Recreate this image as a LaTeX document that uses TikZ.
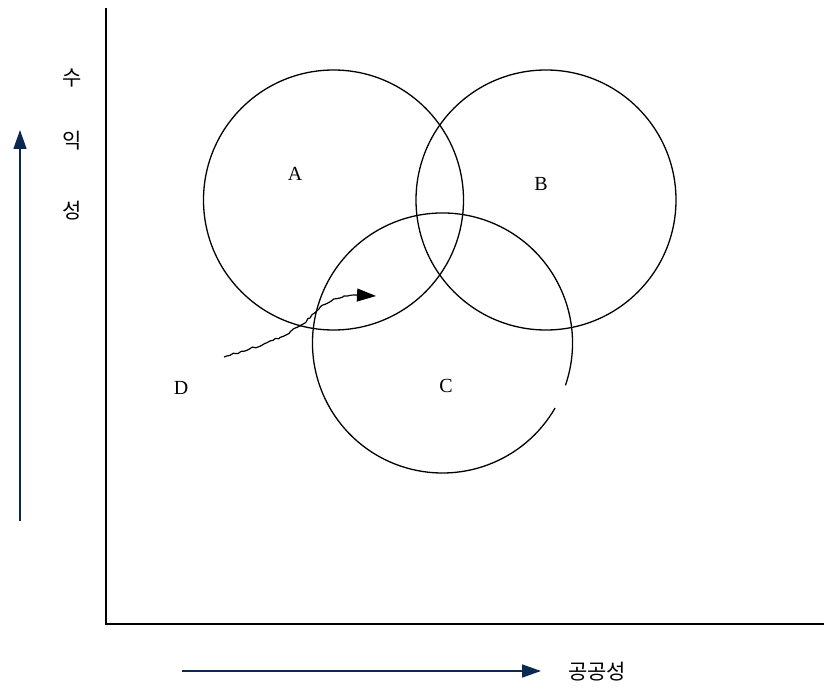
\documentclass[tikz,border=0pt]{standalone}
\usepackage{fontspec}
\setmainfont{Liberation Serif}
\newfontfamily\kr{Noto Sans CJK KR}
\usetikzlibrary{arrows.meta,decorations.pathmorphing}
\definecolor{navy}{HTML}{0B2850}
\begin{document}
\begin{tikzpicture}[x=1pt,y=-1pt,
  circ/.style={draw,line width=1.3pt},
  lbl/.style={font=\fontsize{20}{20}\selectfont,inner sep=0pt},
  krl/.style={font=\kr\fontsize{21}{21}\selectfont,inner sep=0pt},
  axis/.style={line width=1.8pt},
  navyarrow/.style={navy,line width=1.6pt,-{Triangle[length=19pt,width=13pt]}}]
\useasboundingbox (0,0) rectangle (824,695);
% axes
\coordinate (o) at (106,624);
\coordinate (ytop) at (106,8);
\coordinate (xend) at (824,624);
\draw[axis] (ytop) -- (o) -- (xend);
% circles
\node[circ,circle,minimum size=260pt,inner sep=0pt] (A) at (333.5,200) {};
\node[circ,circle,minimum size=260pt,inner sep=0pt] (B) at (546,200) {};
\coordinate (Cc) at (442.5,343);
\draw[circ] (Cc) ++(-19:130pt) arc[start angle=-19,end angle=330,radius=130pt];
% labels
\node[lbl] (la) at (295,174) {A};
\node[lbl] (lb) at (541,184) {B};
\node[lbl] (lc) at (446,386) {C};
\node[lbl] (ld) at (181,388) {D};
% wiggly arrow
\coordinate (w0) at (224,357);
\coordinate (w1) at (356,295);
\coordinate (w2) at (376,296);
\draw[line width=1.2pt,decorate,decoration={random steps,segment length=3pt,amplitude=1pt}]
  (w0) .. controls (265,345) and (290,335) .. (310,318) .. controls (325,300) and (340,296) .. (w1);
\draw[line width=1.2pt,-{Triangle[length=19pt,width=13pt]}] (w1) -- (w2);
% vertical label
\node[krl] (su) at (72,78) {수};
\node[krl] (ik) at (72,141) {익};
\node[krl] (seong) at (72,211) {성};
% arrows
\coordinate (v0) at (20,521);
\coordinate (v1) at (20,130);
\draw[navyarrow] (v0) -- (v1);
\coordinate (h0) at (182,671);
\coordinate (h1) at (541,671);
\draw[navyarrow] (h0) -- (h1);
\node[krl] (pub) at (597,672) {공공성};
\end{tikzpicture}
\end{document}
